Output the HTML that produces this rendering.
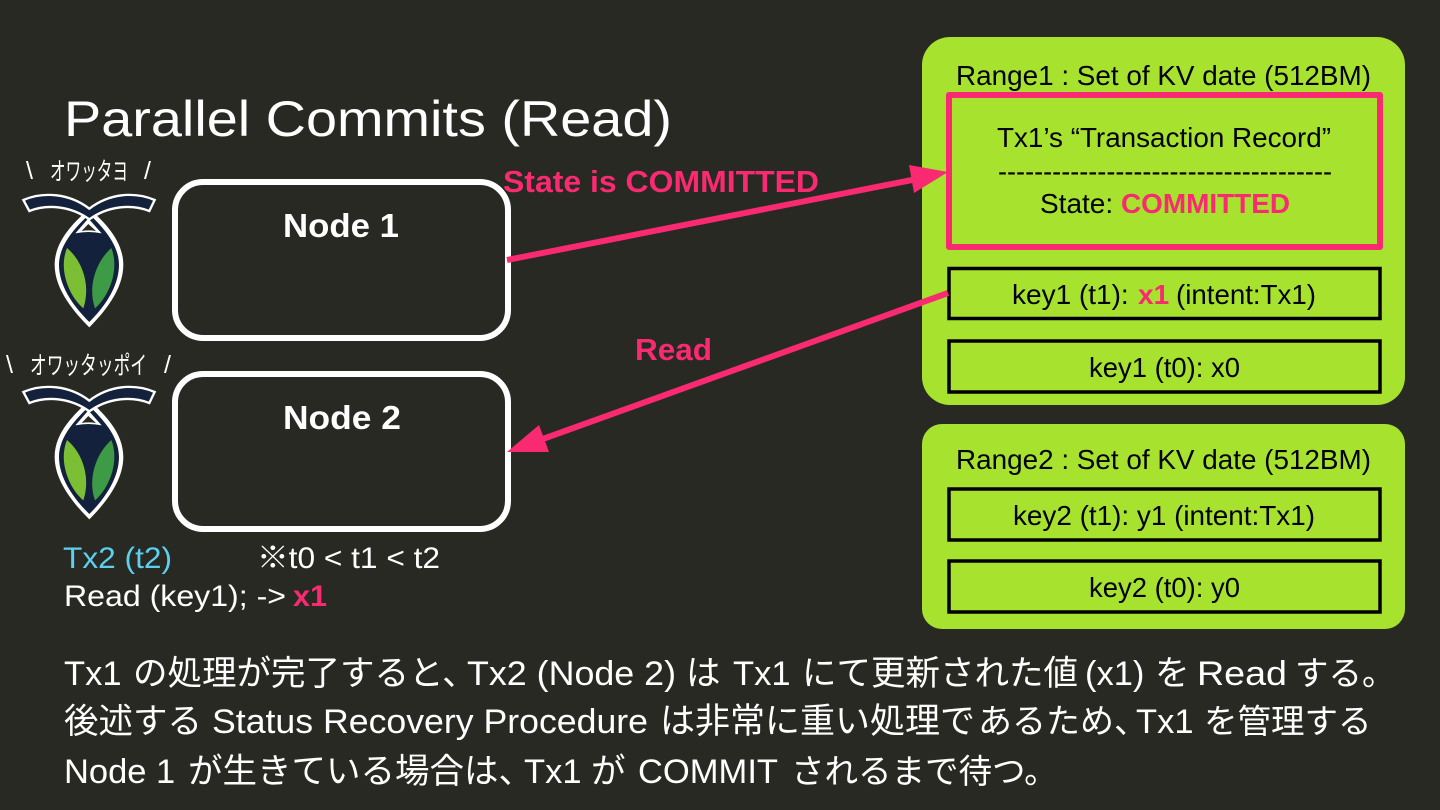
<!DOCTYPE html>
<html><head><meta charset="utf-8"><style>
html,body{margin:0;padding:0;background:#292924}
svg{display:block}
text{font-family:"Liberation Sans","Noto Sans CJK JP",sans-serif}
.w{fill:#fff}.k{fill:#000}.p{fill:#f92a72}
</style></head><body>
<svg width="1440" height="810" viewBox="0 0 1440 810" xmlns="http://www.w3.org/2000/svg">
<rect width="1440" height="810" fill="#292924"/>
<defs>
<g id="logo">
<path d="M268 175C225 215 164 270 164 345C164 420 226 490 268 532C310 490 370 420 370 345C370 270 311 215 268 175Z" fill="#fff"/>
<path d="M268 192C232 228 177 280 177 345C177 415 231 480 268 516C305 480 357 415 357 345C357 280 304 228 268 192Z" fill="#14213d"/>
<path d="M70 150C130 124 208 130 268 176C328 130 404 124 464 150L448 183C395 162 325 167 268 208C211 167 141 162 88 183Z" fill="#14213d" stroke="#fff" stroke-width="7" stroke-linejoin="miter"/>
<path d="M265 205L226 250Q265 242 305 250Z" fill="#fff"/>
<path d="M265 222L245 243Q265 239 288 243Z" fill="#292924"/>
<path d="M201 294C250 335 272 410 250 475C208 440 174 360 201 294Z" fill="#7cbf35"/>
<path d="M334 294C288 335 262 410 285 475C326 440 360 360 334 294Z" fill="#3d9a45"/>
</g>
</defs>

<text x="64" y="136" font-size="50" class="w" textLength="608" lengthAdjust="spacingAndGlyphs">Parallel Commits (Read)</text>

<g font-size="25" class="w">
<text x="26" y="179">\</text>
<text x="50" y="180" textLength="78" lengthAdjust="spacingAndGlyphs">オワッタヨ</text>
<text x="144" y="179">/</text>
<text x="6" y="373">\</text>
<text x="30" y="374" textLength="117" lengthAdjust="spacingAndGlyphs">オワッタッポイ</text>
<text x="164" y="373">/</text>
</g>
<use href="#logo" transform="translate(0 150) scale(.3333)"/>
<use href="#logo" transform="translate(0 342) scale(.3333)"/>

<rect x="175" y="182" width="333" height="156" rx="28" fill="none" stroke="#fff" stroke-width="6"/>
<rect x="175" y="374" width="333" height="155" rx="28" fill="none" stroke="#fff" stroke-width="6"/>
<text x="283" y="237" font-size="33.500" font-weight="700" class="w" textLength="116" lengthAdjust="spacingAndGlyphs">Node 1</text>
<text x="283" y="429" font-size="33.500" font-weight="700" class="w" textLength="118" lengthAdjust="spacingAndGlyphs">Node 2</text>

<rect x="922" y="37" width="483" height="368" rx="28" fill="#a7e22e"/>
<rect x="922" y="424" width="483" height="205" rx="20" fill="#a7e22e"/>
<rect x="949" y="95" width="431" height="152" fill="none" stroke="#f92a72" stroke-width="6" stroke-linejoin="round"/>
<rect x="949" y="268.500" width="431" height="50" fill="none" stroke="#000" stroke-width="3.500"/>
<rect x="949" y="341" width="431" height="51" fill="none" stroke="#000" stroke-width="3.500"/>
<rect x="949" y="489" width="431" height="51" fill="none" stroke="#000" stroke-width="3.500"/>
<rect x="949" y="561" width="431" height="51" fill="none" stroke="#000" stroke-width="3.500"/>

<g font-size="28" class="k">
<text x="956" y="85" textLength="415" lengthAdjust="spacingAndGlyphs">Range1 : Set of KV date (512BM)</text>
<text x="997" y="147" textLength="334" lengthAdjust="spacingAndGlyphs">Tx1’s “Transaction Record”</text>
<text x="998" y="181" textLength="334" lengthAdjust="spacingAndGlyphs">-------------------------------------</text>
<text x="1040" y="213">State: </text><text x="1121" y="213" class="p" font-weight="700" textLength="169" lengthAdjust="spacingAndGlyphs">COMMITTED</text>
<text x="1012" y="304">key1 (t1): </text><text x="1138" y="304" class="p" font-weight="700">x1</text><text x="1176" y="304" textLength="140" lengthAdjust="spacingAndGlyphs">(intent:Tx1)</text>
<text x="1089" y="377" textLength="151" lengthAdjust="spacingAndGlyphs">key1 (t0): x0</text>
<text x="956" y="469" textLength="415" lengthAdjust="spacingAndGlyphs">Range2 : Set of KV date (512BM)</text>
<text x="1013" y="525" textLength="302" lengthAdjust="spacingAndGlyphs">key2 (t1): y1 (intent:Tx1)</text>
<text x="1089" y="597" textLength="151" lengthAdjust="spacingAndGlyphs">key2 (t0): y0</text>
</g>

<line x1="507" y1="260" x2="917" y2="179" stroke="#f92a72" stroke-width="6"/>
<path d="M948 172L909 165L914 193Z" fill="#f92a72"/>
<line x1="948" y1="293" x2="540" y2="440" stroke="#f92a72" stroke-width="6"/>
<path d="M507 452L539 425L549 452Z" fill="#f92a72"/>

<text x="503" y="192" font-size="31" font-weight="700" class="p" textLength="316" lengthAdjust="spacingAndGlyphs">State is COMMITTED</text>
<text x="635" y="360" font-size="31" font-weight="700" class="p" textLength="77" lengthAdjust="spacingAndGlyphs">Read</text>

<text x="63" y="568" font-size="30" fill="#5dd0f0" textLength="109" lengthAdjust="spacingAndGlyphs">Tx2 (t2)</text>
<text x="257" y="568" font-size="30" class="w" textLength="183" lengthAdjust="spacingAndGlyphs">※t0 &lt; t1 &lt; t2</text>
<text x="64" y="606" font-size="30" class="w" textLength="222" lengthAdjust="spacingAndGlyphs">Read (key1); -&gt;</text><text x="293" y="606" font-size="30" class="p" font-weight="700" textLength="34" lengthAdjust="spacingAndGlyphs">x1</text>

<g font-size="34.500" class="w">
<text x="64" y="685">Tx1</text>
<text x="133" y="685">の処理が完了すると、</text>
<text x="467" y="685" textLength="209" lengthAdjust="spacingAndGlyphs">Tx2 (Node 2)</text>
<text x="686" y="685">は</text>
<text x="733" y="685">Tx1</text>
<text x="802" y="685">にて更新された値</text>
<text x="1085" y="685">(x1)</text>
<text x="1155" y="685">を</text>
<text x="1197" y="685" textLength="90" lengthAdjust="spacingAndGlyphs">Read</text>
<text x="1295" y="685" font-size="33.500">する。</text>

<text x="64" y="733">後述する</text>
<text x="212" y="733" textLength="436" lengthAdjust="spacingAndGlyphs">Status Recovery Procedure</text>
<text x="660" y="733" font-size="35">は非常に重い処理で</text>
<text x="978" y="733" font-size="34">あるため、</text>
<text x="1136" y="733">Tx1</text>
<text x="1204" y="733" font-size="33.500">を管理する</text>

<text x="64" y="783">Node 1</text>
<text x="188" y="783">が生きている場合は、</text>
<text x="524" y="783">Tx1</text>
<text x="591" y="783">が</text>
<text x="638" y="783" textLength="140" lengthAdjust="spacingAndGlyphs">COMMIT</text>
<text x="791" y="783" font-size="33.500">されるまで待つ。</text>
</g>
</svg>
</body></html>
